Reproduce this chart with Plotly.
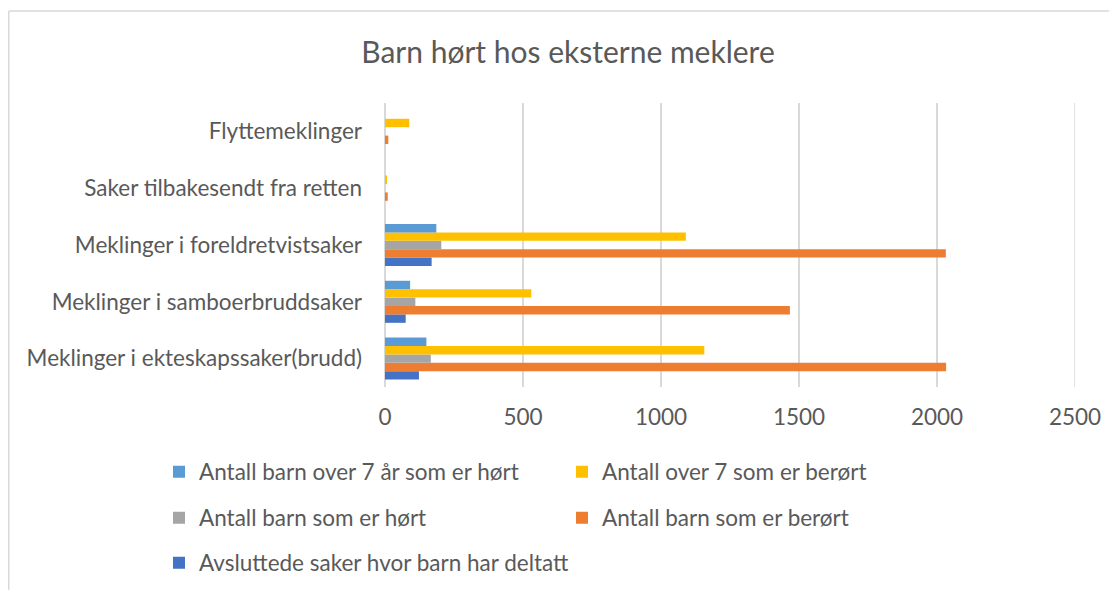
import plotly.graph_objects as go

# categories bottom -> top (plotly draws first category at the bottom)
categories = [
    "Meklinger i ekteskapssaker(brudd)",
    "Meklinger i samboerbruddsaker",
    "Meklinger i foreldretvistsaker",
    "Saker tilbakesendt fra retten",
    "Flyttemeklinger",
]

over7_hort = [150, 91, 186, 0, 0]
over7_berort = [1157, 530, 1090, 6, 88]
barn_hort = [166, 110, 204, 0, 0]
barn_berort = [2033, 1467, 2032, 10, 12]
avsluttede = [123, 75, 169, 0, 0]

x_ticks = [0, 500, 1000, 1500, 2000, 2500]

# page body has an 8px margin, so the figure sits at (8, 8) on screen
OFF = 8
W, H = 1117 - OFF, 590 - OFF
L, R, T, B = 385 - OFF, 42, 103 - OFF, 590 - 387
PW, PH = W - L - R, H - T - B


def px_x(p):
    return (p - OFF - L) / PW


def px_y(p):
    return (H - B - (p - OFF)) / PH


font = "Lato"
grey = "#595959"
line_col = "#d9d9d9"

# (name, values, color, legend, rank) -- added bottom bar first
series = [
    ("Avsluttede saker hvor barn har deltatt", avsluttede, "#4472C4", "legend3", 5),
    ("Antall barn som er berørt", barn_berort, "#ED7D31", "legend2", 4),
    ("Antall barn som er hørt", barn_hort, "#A5A5A5", "legend2", 3),
    ("Antall over 7 som er berørt", over7_berort, "#FFC000", "legend", 2),
    ("Antall barn over 7 år som er hørt", over7_hort, "#5B9BD5", "legend", 1),
]

fig = go.Figure()
for name, vals, col, leg, rank in series:
    fig.add_trace(go.Bar(
        y=categories, x=vals, name=name, orientation="h",
        marker=dict(color=col, line=dict(width=0)),
        legend=leg, legendrank=rank,
    ))

leg_common = dict(
    orientation="h", xanchor="left", yanchor="middle",
    entrywidthmode="pixels",
    font=dict(family=font, size=22.5, color=grey),
    bgcolor="rgba(0,0,0,0)",
)

fig.update_layout(
    width=W, height=H,
    margin=dict(l=L, r=R, t=T, b=B, autoexpand=False),
    paper_bgcolor="white", plot_bgcolor="white",
    barmode="group", bargap=0.26, bargroupgap=0,
    title=dict(text="Barn hørt hos eksterne meklere", x=(568 - OFF) / W, xref="container",
               xanchor="center", y=1 - (52 - OFF) / H, yref="container", yanchor="middle",
               font=dict(family=font, size=30, color=grey)),
    font=dict(family=font, color=grey),
    xaxis=dict(range=[0, 2500], tickvals=x_ticks, showgrid=True, gridcolor=line_col,
               gridwidth=1.5, zeroline=True, zerolinecolor=line_col, zerolinewidth=1.5,
               showline=False, ticks="", ticklabelstandoff=14,
               tickfont=dict(family=font, size=22.5, color=grey), fixedrange=True),
    yaxis=dict(showgrid=False, zeroline=False, showline=False, ticks="",
               ticklabelstandoff=22, tickfont=dict(family=font, size=22.5, color=grey)),
    legend=dict(x=px_x(159), y=px_y(472), entrywidth=358, **leg_common),
    legend2=dict(x=px_x(159), y=px_y(518), entrywidth=358, **leg_common),
    legend3=dict(x=px_x(159), y=px_y(563), entrywidth=420, **leg_common),
    shapes=[
        # gridline at the right edge (plotly drops it at the range end)
        dict(type="line", xref="x", yref="paper", x0=2500, x1=2500, y0=0, y1=1,
             layer="below", line=dict(color=line_col, width=1.5)),
        # chart-area border (top and left edges visible)
        dict(type="line", xref="paper", yref="paper", x0=px_x(8.75), x1=px_x(1130),
             y0=px_y(11), y1=px_y(11), line=dict(color=line_col, width=1.5)),
        dict(type="line", xref="paper", yref="paper", x0=px_x(8.75), x1=px_x(8.75),
             y0=px_y(11), y1=px_y(600), line=dict(color=line_col, width=1.5)),
    ],
)

fig.write_html("out.html")
